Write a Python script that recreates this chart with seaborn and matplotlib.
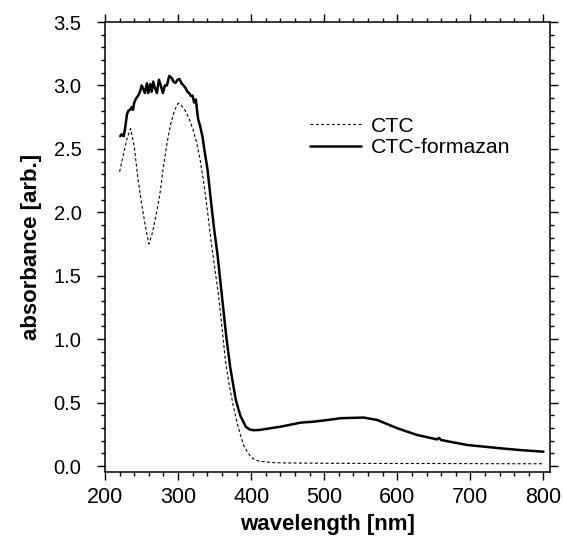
import matplotlib
matplotlib.use("Agg")
import matplotlib.pyplot as plt
from matplotlib.ticker import MultipleLocator
import seaborn as sns
import pandas as pd

# ---- data ----
ctc_wl = [220, 225, 230, 235, 240, 245, 250, 255, 260, 265, 270, 275, 280, 285,
          290, 295, 300, 305, 310, 315, 320, 325, 330, 335, 340, 345, 350, 355,
          360, 365, 370, 375, 380, 385, 390, 395, 400, 405, 410, 420, 430, 450,
          500, 550, 600, 650, 700, 750, 800]
ctc_abs = [2.32, 2.45, 2.58, 2.66, 2.52, 2.27, 2.07, 1.90, 1.75, 1.84, 1.98, 2.14,
           2.36, 2.55, 2.70, 2.80, 2.86, 2.84, 2.80, 2.74, 2.66, 2.56, 2.42, 2.24,
           2.02, 1.78, 1.57, 1.36, 1.10, 0.82, 0.64, 0.49, 0.36, 0.25, 0.16, 0.11,
           0.07, 0.05, 0.04, 0.032, 0.027, 0.024, 0.022, 0.021, 0.020, 0.020,
           0.019, 0.018, 0.018]

form_wl = [220.9, 222.8, 225.5, 227.3, 230.1, 231.9, 234.6, 236.4, 238.3, 240.0,
           242.3, 245.5, 248.3, 250.1, 252.8, 254.6, 257.4, 259.2, 261.9, 263.8,
           266.0, 268.3, 271.0, 273.8, 276.5, 279.2, 282.0, 284.7, 287.9, 291.1,
           293.8, 296.5, 299.3, 302.0, 304.7, 307.5, 310.7, 312.9, 315.2, 317.5,
           319.8, 322.0, 324.3, 325.7, 327.5, 330.2, 333.4, 336.6, 340.3, 344.8,
           349.4, 353.9, 361.6, 366.0, 371.2, 379.0, 385.0, 392.6, 398.0, 404.0,
           412.0, 440.0, 467.8, 486.0, 513.0, 522.0, 554.0, 572.5, 600.0, 627.0,
           654.4, 657.0, 660.0, 695.5, 741.0, 770.0, 800.0]
form_abs = [2.60, 2.615, 2.60, 2.654, 2.773, 2.80, 2.81, 2.83, 2.807, 2.865,
            2.896, 2.92, 2.957, 3.00, 2.97, 2.94, 3.017, 2.94, 3.01, 2.95,
            3.03, 2.98, 2.94, 3.045, 2.996, 2.94, 3.00, 3.00, 3.075, 3.06,
            3.03, 3.02, 3.045, 3.05, 3.017, 3.00, 2.975, 2.95, 2.94, 2.917,
            2.92, 2.865, 2.89, 2.817, 2.733, 2.68, 2.596, 2.47, 2.338, 2.10,
            1.864, 1.67, 1.255, 1.02, 0.784, 0.521, 0.40, 0.31, 0.288, 0.282,
            0.285, 0.31, 0.342, 0.35, 0.369, 0.377, 0.382, 0.363, 0.298, 0.245,
            0.21, 0.222, 0.205, 0.166, 0.14, 0.125, 0.113]

labels = ["CTC", "CTC-formazan"]

# ---- style ----
sns.set_theme(style="ticks")
plt.rcParams["font.family"] = ["Liberation Sans", "DejaVu Sans"]
plt.rcParams["text.color"] = "black"
plt.rcParams["axes.labelcolor"] = "black"
plt.rcParams["xtick.color"] = "black"
plt.rcParams["ytick.color"] = "black"

fig = plt.figure(figsize=(5.63, 5.38), dpi=100)
ax = fig.add_axes([105 / 563, 1 - 472 / 538, 445 / 563, 450 / 538])

df_ctc = pd.DataFrame({"wl": ctc_wl, "a": ctc_abs})
df_form = pd.DataFrame({"wl": form_wl, "a": form_abs})

sns.lineplot(data=df_ctc, x="wl", y="a", ax=ax, color="black", lw=0.8,
             linestyle=(0, (2.7, 2.1)), label=labels[0], estimator=None)
sns.lineplot(data=df_form, x="wl", y="a", ax=ax, color="black", lw=1.8,
             label=labels[1], estimator=None)

ax.set_xlim(200, 809)
ax.set_ylim(-0.047, 3.5)

ax.xaxis.set_major_locator(MultipleLocator(100))
ax.xaxis.set_minor_locator(MultipleLocator(20))
ax.yaxis.set_major_locator(MultipleLocator(0.5))
ax.yaxis.set_minor_locator(MultipleLocator(0.1))

ax.tick_params(which="both", direction="out", top=True, right=True,
               labeltop=False, labelright=False, colors="black", width=1.0)
ax.tick_params(which="major", length=6)
ax.tick_params(which="minor", length=3)
ax.tick_params(axis="x", which="major", labelsize=15.5, pad=5)
ax.tick_params(axis="y", which="major", labelsize=14.5, pad=11)

for s in ax.spines.values():
    s.set_visible(True)
    s.set_color("black")
    s.set_linewidth(1.1)

ax.set_xlabel("wavelength [nm]", fontsize=16, fontweight="bold", labelpad=4,
              color="black")
ax.set_ylabel("absorbance [arb.]", fontsize=16, fontweight="bold", labelpad=8,
              color="black")

leg = ax.legend(loc="upper left", bbox_to_anchor=(0.461, 0.79), frameon=False,
                fontsize=15.3, handlelength=2.4, handletextpad=0.45,
                labelspacing=0.12, borderpad=0, borderaxespad=0)
for t in leg.get_texts():
    t.set_color("black")

fig.savefig("out.png", dpi=100)
